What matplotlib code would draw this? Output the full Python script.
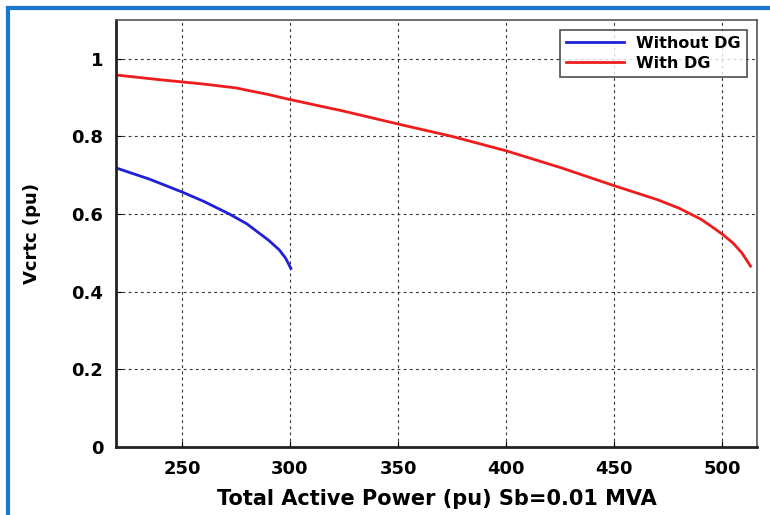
import matplotlib
matplotlib.use("Agg")
import matplotlib.pyplot as plt
from matplotlib.lines import Line2D
from matplotlib.ticker import FuncFormatter

# values
p_without = [220, 235, 250, 260, 272, 280, 290, 295, 298, 300.4]
v_without = [0.718, 0.690, 0.657, 0.633, 0.600, 0.575, 0.533, 0.508, 0.486, 0.460]

p_with = [220, 240, 260, 275, 290, 300, 325, 350, 375, 400, 425, 450,
          460, 470, 480, 490, 495, 500, 505, 509, 513]
v_with = [0.958, 0.946, 0.935, 0.925, 0.908, 0.895, 0.865, 0.832, 0.800,
          0.763, 0.720, 0.673, 0.655, 0.637, 0.615, 0.587, 0.568, 0.548,
          0.525, 0.500, 0.466]

x_ticks = [250, 300, 350, 400, 450, 500]
y_ticks = [0, 0.2, 0.4, 0.6, 0.8, 1.0]

plt.rcParams["font.family"] = ["DejaVu Sans"]
plt.rcParams["font.weight"] = "bold"

fig = plt.figure(figsize=(7.7, 5.15), dpi=100)
ax = fig.add_axes([116 / 770, 1 - 447 / 515, (757 - 116) / 770, (447 - 20) / 515])

ax.plot(p_without, v_without, color="#1f1fd8", lw=2, label="Without DG")
ax.plot(p_with, v_with, color="#ee1c1c", lw=2, label="With DG")

ax.set_xlim(219.5, 516)
ax.set_ylim(0, 1.1)
ax.set_xticks(x_ticks)
ax.set_yticks(y_ticks)
ax.yaxis.set_major_formatter(FuncFormatter(lambda v, _: f"{v:g}"))
ax.tick_params(direction="in", length=4, labelsize=13, pad=9)
for lab in ax.get_xticklabels() + ax.get_yticklabels():
    lab.set_fontweight("bold")

ax.grid(True, color="#333333", linestyle=(0, (2.5, 3)), lw=0.8)

for side in ("left", "bottom"):
    ax.spines[side].set_linewidth(2)
    ax.spines[side].set_color("#222222")
for side in ("top", "right"):
    ax.spines[side].set_linewidth(1.2)
    ax.spines[side].set_color("#555555")

ax.set_xlabel("Total Active Power (pu) Sb=0.01 MVA", fontsize=15,
              fontweight="bold", labelpad=8)
ax.set_ylabel("Vcrtc (pu)", fontsize=13, fontweight="bold", labelpad=22)

leg = ax.legend(loc="upper right", fontsize=11.5, frameon=True, fancybox=False,
                edgecolor="#222222", handlelength=3.6, borderaxespad=0.6,
                labelspacing=0.3, borderpad=0.4)
leg.get_frame().set_linewidth(1.2)
for t in leg.get_texts():
    t.set_fontweight("bold")

# blue frame around the picture
blue = "#1a78d0"
fig.add_artist(Line2D([8 / 770, 8 / 770], [0, 1 - 8 / 515], color=blue, lw=3,
                      transform=fig.transFigure))
fig.add_artist(Line2D([8 / 770, 1], [1 - 8 / 515, 1 - 8 / 515], color=blue, lw=3,
                      transform=fig.transFigure))

fig.savefig("out.png", dpi=100)
